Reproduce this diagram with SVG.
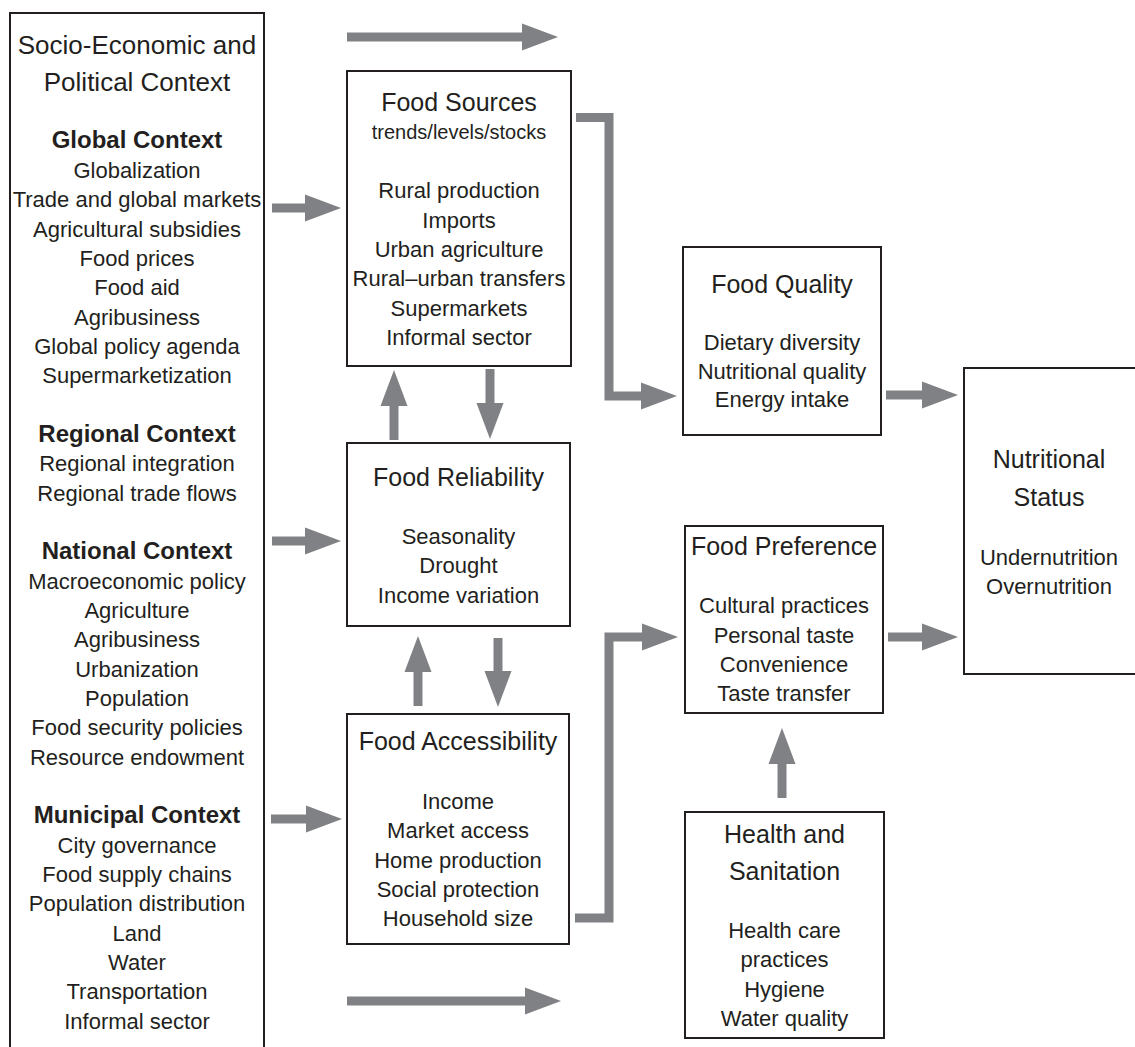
<svg xmlns="http://www.w3.org/2000/svg" width="1135" height="1047" viewBox="0 0 1135 1047">
<style>
text{font-family:"Liberation Sans",Arial,sans-serif;fill:#231f20;text-anchor:middle}
.t{font-size:25px}
.t26{font-size:26px}
.h{font-size:24px;font-weight:bold}
.i{font-size:22px}
.s{font-size:20px}
.box{fill:#fff;stroke:#231f20;stroke-width:2}
.conn{fill:none;stroke:#808184;stroke-width:9;marker-end:url(#ah)}
</style>
<defs>
<marker id="ah" markerUnits="userSpaceOnUse" markerWidth="36" markerHeight="28" viewBox="0 0 36 28" refX="0" refY="14" orient="auto">
<path d="M0,0.5 L36,14 L0,27.5 Z" fill="#808184"/>
</marker>
</defs>
<rect width="1135" height="1047" fill="#fff"/>

<g id="context">
<path class="box" d="M10,1050 V13 H264 V1050"/>
<text class="t26" x="137" y="54">Socio-Economic and</text>
<text class="t26" x="137" y="91">Political Context</text>
<text class="h" x="137" y="148">Global Context</text>
<text class="i" x="137" y="178">Globalization</text>
<text class="i" x="137" y="207.3">Trade and global markets</text>
<text class="i" x="137" y="236.7">Agricultural subsidies</text>
<text class="i" x="137" y="266">Food prices</text>
<text class="i" x="137" y="295.3">Food aid</text>
<text class="i" x="137" y="324.7">Agribusiness</text>
<text class="i" x="137" y="354">Global policy agenda</text>
<text class="i" x="137" y="383.3">Supermarketization</text>
<text class="h" x="137" y="442">Regional Context</text>
<text class="i" x="137" y="471.3">Regional integration</text>
<text class="i" x="137" y="500.7">Regional trade flows</text>
<text class="h" x="137" y="559.3">National Context</text>
<text class="i" x="137" y="588.7">Macroeconomic policy</text>
<text class="i" x="137" y="618">Agriculture</text>
<text class="i" x="137" y="647.3">Agribusiness</text>
<text class="i" x="137" y="676.7">Urbanization</text>
<text class="i" x="137" y="706">Population</text>
<text class="i" x="137" y="735.3">Food security policies</text>
<text class="i" x="137" y="764.7">Resource endowment</text>
<text class="h" x="137" y="823.3">Municipal Context</text>
<text class="i" x="137" y="852.7">City governance</text>
<text class="i" x="137" y="882">Food supply chains</text>
<text class="i" x="137" y="911.3">Population distribution</text>
<text class="i" x="137" y="940.7">Land</text>
<text class="i" x="137" y="970">Water</text>
<text class="i" x="137" y="999.3">Transportation</text>
<text class="i" x="137" y="1028.7">Informal sector</text>
</g>

<g id="food-sources">
<rect class="box" x="347" y="71" width="224" height="295"/>
<text class="t" x="459" y="110.7">Food Sources</text>
<text class="s" x="459" y="139.3">trends/levels/stocks</text>
<text class="i" x="459" y="198.3">Rural production</text>
<text class="i" x="459" y="227.6">Imports</text>
<text class="i" x="459" y="256.9">Urban agriculture</text>
<text class="i" x="459" y="286.2">Rural–urban transfers</text>
<text class="i" x="459" y="315.5">Supermarkets</text>
<text class="i" x="459" y="344.8">Informal sector</text>
</g>

<g id="food-reliability">
<rect class="box" x="347" y="443" width="223" height="183"/>
<text class="t" x="458.5" y="485.7">Food Reliability</text>
<text class="i" x="458.5" y="544">Seasonality</text>
<text class="i" x="458.5" y="573.3">Drought</text>
<text class="i" x="458.5" y="602.6">Income variation</text>
</g>

<g id="food-accessibility">
<rect class="box" x="347" y="714" width="222" height="230"/>
<text class="t" x="458" y="750">Food Accessibility</text>
<text class="i" x="458" y="809">Income</text>
<text class="i" x="458" y="838.3">Market access</text>
<text class="i" x="458" y="867.6">Home production</text>
<text class="i" x="458" y="896.9">Social protection</text>
<text class="i" x="458" y="926.2">Household size</text>
</g>

<g id="food-quality">
<rect class="box" x="683" y="247" width="198" height="188"/>
<text class="t" x="782" y="293">Food Quality</text>
<text class="i" x="782" y="350">Dietary diversity</text>
<text class="i" x="782" y="378.5">Nutritional quality</text>
<text class="i" x="782" y="407">Energy intake</text>
</g>

<g id="food-preference">
<rect class="box" x="685" y="526" width="198" height="187"/>
<text class="t" x="784" y="555">Food Preference</text>
<text class="i" x="784" y="613.3">Cultural practices</text>
<text class="i" x="784" y="642.6">Personal taste</text>
<text class="i" x="784" y="671.9">Convenience</text>
<text class="i" x="784" y="701.2">Taste transfer</text>
</g>

<g id="health-sanitation">
<rect class="box" x="685" y="812" width="199" height="226"/>
<text class="t" x="784.5" y="842.7">Health and</text>
<text class="t" x="784.5" y="880">Sanitation</text>
<text class="i" x="784.5" y="938">Health care</text>
<text class="i" x="784.5" y="967.3">practices</text>
<text class="i" x="784.5" y="996.6">Hygiene</text>
<text class="i" x="784.5" y="1025.9">Water quality</text>
</g>

<g id="nutritional-status">
<rect class="box" x="964" y="368" width="190" height="306"/>
<text class="t" x="1049" y="468">Nutritional</text>
<text class="t" x="1049" y="506">Status</text>
<text class="i" x="1049" y="565">Undernutrition</text>
<text class="i" x="1049" y="594">Overnutrition</text>
</g>

<g id="connectors">
<path class="conn" d="M347,37 H522"/>
<path class="conn" d="M272,208 H305"/>
<path class="conn" d="M272,541 H305"/>
<path class="conn" d="M271,819 H306"/>
<path class="conn" d="M347,1001 H525"/>
<path class="conn" d="M394,440 V406"/>
<path class="conn" d="M490,369 V403"/>
<path class="conn" d="M418,706 V672"/>
<path class="conn" d="M498,638 V671"/>
<path class="conn" d="M576,117.5 H609 V396 H641"/>
<path class="conn" d="M575,918 H609 V637 H642"/>
<path class="conn" d="M886,395 H922"/>
<path class="conn" d="M888,637 H922"/>
<path class="conn" d="M782,798 V764"/>
</g>
</svg>
